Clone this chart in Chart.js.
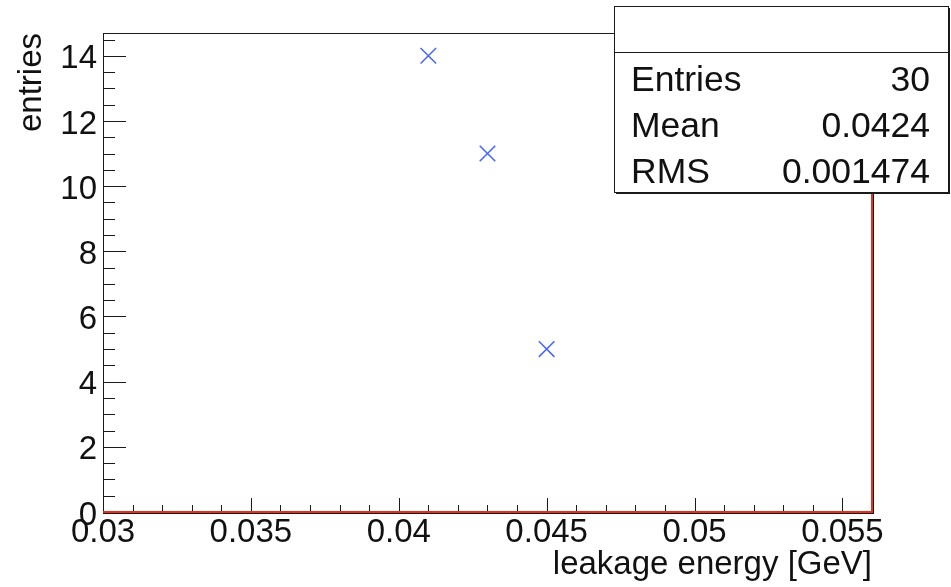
<!DOCTYPE html>
<html>
<head>
<meta charset="utf-8">
<script src="https://cdn.jsdelivr.net/npm/chart.js@4.4.1/dist/chart.umd.min.js"></script>
<style>
  html, body { margin: 0; padding: 0; background: #fff; }
  #wrap { width: 951px; height: 587px; position: relative; }
</style>
</head>
<body>
<div id="wrap"><canvas id="leakageChart"></canvas></div>
<script>
// marker data (bin centre, entries)
const energies = [0.041, 0.043, 0.045];
const entries = [14, 11, 5];

// histogram outline as ROOT draws it
const histX = [0.03, 0.056, 0.056];
const histY = [0, 0, 14.7];

// axis ranges
const xMin = 0.03, xMax = 0.056;
const yMin = 0, yMax = 14.7;

// stats box
const statLabels = ["Entries", "Mean", "RMS"];
const statValues = ["30", "0.0424", "0.001474"];

const FONT = "'Liberation Sans', Arial, Helvetica, sans-serif";

const rootFrame = {
    id: "rootFrame",
    beforeDatasetsDraw(chart) {
        const { ctx, chartArea: a, scales: { x, y } } = chart;
        ctx.save();
        ctx.strokeStyle = "#1a1a1a";
        ctx.lineWidth = 1;
        ctx.strokeRect(a.left + 0.5, a.top + 0.5, a.right - a.left + 1, a.bottom - a.top + 1);
        ctx.beginPath();
        // x ticks, inward
        for (let i = 0; ; i++) {
            const v = xMin + i * 0.001;
            if (v > xMax + 1e-9) break;
            const px = Math.round(x.getPixelForValue(v)) + 0.5;
            const len = i % 5 === 0 ? 14 : 7;
            ctx.moveTo(px, a.bottom);
            ctx.lineTo(px, a.bottom - len);
        }
        // y ticks, inward
        for (let i = 0; ; i++) {
            const v = yMin + i * 0.5;
            if (v > yMax + 1e-9) break;
            const py = Math.round(y.getPixelForValue(v)) + 0.5;
            const len = i % 4 === 0 ? 23 : 12;
            ctx.moveTo(a.left, py);
            ctx.lineTo(a.left + len, py);
        }
        ctx.stroke();
        ctx.restore();
    },
    afterDraw(chart) {
        const ctx = chart.ctx;
        const bx = 614, by = 6, bw = 334, bh = 186;
        ctx.save();
        ctx.fillStyle = "#1a1a1a";
        ctx.fillRect(bx + 2, by + 2, bw, bh);
        ctx.fillStyle = "#fff";
        ctx.fillRect(bx, by, bw, bh);
        ctx.strokeStyle = "#1a1a1a";
        ctx.lineWidth = 1;
        ctx.strokeRect(bx + 0.5, by + 0.5, bw, bh);
        ctx.beginPath();
        ctx.moveTo(bx, 52.5);
        ctx.lineTo(bx + bw, 52.5);
        ctx.stroke();
        ctx.fillStyle = "#111";
        ctx.font = "35.5px " + FONT;
        ctx.textBaseline = "alphabetic";
        statLabels.forEach((lab, i) => {
            const base = 91 + i * 46;
            ctx.textAlign = "left";
            ctx.fillText(lab, 631, base);
            ctx.textAlign = "right";
            ctx.fillText(statValues[i], 930, base);
        });
        ctx.restore();
    }
};

document.addEventListener("DOMContentLoaded", function () {
    const ctx = document.getElementById("leakageChart").getContext("2d");

    new Chart(ctx, {
        type: "line",
        data: {
            datasets: [{
                label: "hist",
                data: histX.map((v, i) => ({ x: v, y: histY[i] })),
                showLine: true,
                clip: false,
                borderColor: "rgb(235, 45, 25)",
                borderWidth: 2,
                pointRadius: 0,
                fill: false,
                tension: 0
            }, {
                label: "entries",
                data: energies.map((v, i) => ({ x: v, y: entries[i] })),
                showLine: false,
                pointStyle: "crossRot",
                pointRadius: 11,
                borderWidth: 1.5,
                borderColor: "rgb(70, 100, 255)",
                backgroundColor: "rgb(70, 100, 255)"
            }]
        },
        options: {
            responsive: true,
            maintainAspectRatio: false,
            animation: false,
            layout: { padding: { top: 33, right: 79, left: 0, bottom: 0 } },
            plugins: {
                legend: { display: false },
                tooltip: { enabled: false }
            },
            scales: {
                x: {
                    type: "linear",
                    min: xMin,
                    max: xMax,
                    grid: { display: false, drawTicks: false },
                    border: { display: false },
                    afterFit: s => { s.height = 75; },
                    ticks: {
                        stepSize: 0.005,
                        includeBounds: false,
                        padding: 1,
                        maxRotation: 0,
                        autoSkip: false,
                        color: "#111",
                        font: { family: FONT, size: 33 },
                        callback: v => String(Number(v.toFixed(4)))
                    },
                    title: {
                        display: true,
                        text: "leakage energy [GeV]",
                        align: "end",
                        color: "#111",
                        font: { family: FONT, size: 33 },
                        padding: { top: 0, bottom: 2 }
                    }
                },
                y: {
                    type: "linear",
                    min: yMin,
                    max: yMax,
                    grid: { display: false, drawTicks: false },
                    border: { display: false },
                    afterFit: s => { s.width = 103; },
                    ticks: {
                        stepSize: 2,
                        includeBounds: false,
                        padding: 6,
                        color: "#111",
                        font: { family: FONT, size: 33 },
                        labelOffset: 3.5
                    },
                    title: {
                        display: true,
                        text: "entries",
                        align: "end",
                        color: "#111",
                        font: { family: FONT, size: 33 },
                        padding: { top: 12, bottom: 0 }
                    }
                }
            }
        },
        plugins: [rootFrame]
    });
});
</script>
</body>
</html>
